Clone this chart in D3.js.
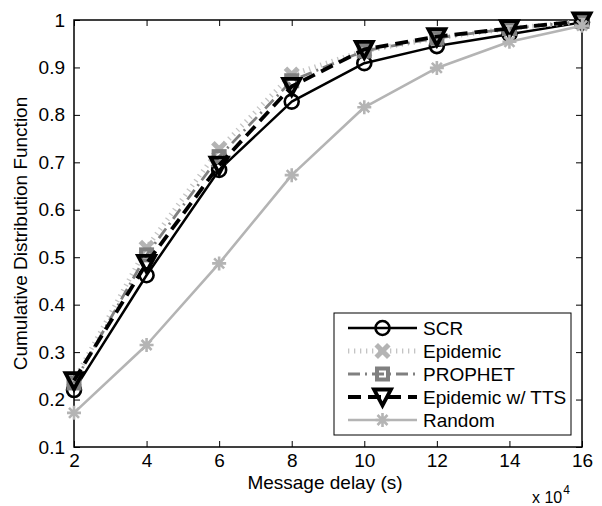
<!DOCTYPE html>
<html>
<head>
<meta charset="utf-8">
<script src="https://cdn.jsdelivr.net/npm/d3@7"></script>
<style>
  html, body { margin: 0; padding: 0; background: #fff; }
  svg { display: block; }
  text { font-family: "Liberation Sans", Arial, Helvetica, sans-serif; fill: #000; }
</style>
</head>
<body>
<svg id="chart" width="602" height="506"></svg>
<script>
// ---------------- data ----------------
const xValues = [2, 4, 6, 8, 10, 12, 14, 16];
const xTicks = [2, 4, 6, 8, 10, 12, 14, 16];
const yTicks = [0.1, 0.2, 0.3, 0.4, 0.5, 0.6, 0.7, 0.8, 0.9, 1];
const seriesNames = ["SCR", "Epidemic", "PROPHET", "Epidemic w/ TTS", "Random"];
const scrValues      = [0.220, 0.462, 0.684, 0.828, 0.909, 0.945, 0.970, 0.995];
const epidemicValues = [0.240, 0.520, 0.728, 0.885, 0.935, 0.962, 0.982, 0.997];
const prophetValues  = [0.235, 0.505, 0.712, 0.872, 0.935, 0.962, 0.982, 0.997];
const ttsValues      = [0.240, 0.487, 0.694, 0.860, 0.938, 0.965, 0.982, 0.998];
const randomValues   = [0.172, 0.315, 0.487, 0.673, 0.816, 0.899, 0.954, 0.988];
const xLabel = "Message delay (s)";
const yLabel = "Cumulative Distribution Function";

// ---------------- layout ----------------
const svg = d3.select("#chart");
const L = 74, R = 582, T = 20, B = 447;
const x = d3.scaleLinear().domain([2, 16]).range([L, R]);
const y = d3.scaleLinear().domain([0.1, 1]).range([B, T]);
const FS = 19;

// styles per series
const styles = [
  { values: scrValues,      color: "#000",    width: 2.5, dash: null,          marker: "circle" },
  { values: epidemicValues, color: "#c4c4c4", width: 5,   dash: "1.3,4.7",     marker: "x",  mcolor: "#b4b4b4" },
  { values: prophetValues,  color: "#808080", width: 2.8, dash: "12,5,2,5",    marker: "square" },
  { values: ttsValues,      color: "#000",    width: 3.8, dash: "13,7",        marker: "tri" },
  { values: randomValues,   color: "#b4b4b4", width: 2.6, dash: null,          marker: "star" }
];

function drawMarker(g, type, cx, cy, s) {
  const mc = s.mcolor || s.color;
  if (type === "circle") {
    g.append("circle").attr("cx", cx).attr("cy", cy).attr("r", 7)
      .attr("fill", "none").attr("stroke", mc).attr("stroke-width", 2.6);
  } else if (type === "x") {
    const p = d3.path(); const a = 4.5;
    p.moveTo(cx - a, cy - a); p.lineTo(cx + a, cy + a);
    p.moveTo(cx - a, cy + a); p.lineTo(cx + a, cy - a);
    g.append("path").attr("d", p.toString()).attr("fill", "none")
      .attr("stroke", mc).attr("stroke-width", 5).attr("stroke-linecap", "square");
  } else if (type === "square") {
    g.append("rect").attr("x", cx - 5.5).attr("y", cy - 5.5).attr("width", 11).attr("height", 11)
      .attr("fill", "none").attr("stroke", mc).attr("stroke-width", 4);
  } else if (type === "tri") {
    const p = d3.path();
    p.moveTo(cx - 8.5, cy - 7.5); p.lineTo(cx + 8.5, cy - 7.5); p.lineTo(cx, cy + 8.5); p.closePath();
    g.append("path").attr("d", p.toString()).attr("fill", "none")
      .attr("stroke", mc).attr("stroke-width", 3.8).attr("stroke-linejoin", "miter");
  } else if (type === "star") {
    const p = d3.path(); const a = 7, b = 5;
    p.moveTo(cx - a, cy); p.lineTo(cx + a, cy);
    p.moveTo(cx, cy - a); p.lineTo(cx, cy + a);
    p.moveTo(cx - b, cy - b); p.lineTo(cx + b, cy + b);
    p.moveTo(cx - b, cy + b); p.lineTo(cx + b, cy - b);
    g.append("path").attr("d", p.toString()).attr("fill", "none")
      .attr("stroke", mc).attr("stroke-width", 2.6);
  }
}

// ---------------- axes ----------------
const tickFmt = d => (d === 1 ? "1" : d3.format(".1f")(d));

const gx = svg.append("g").attr("transform", `translate(0,${B})`)
  .call(d3.axisBottom(x).tickValues(xTicks).tickSizeInner(-6).tickSizeOuter(0).tickPadding(7).tickFormat(d3.format("d")));
const gxt = svg.append("g").attr("transform", `translate(0,${T})`)
  .call(d3.axisTop(x).tickValues(xTicks).tickSizeInner(-6).tickSizeOuter(0).tickFormat(""));
const gy = svg.append("g").attr("transform", `translate(${L},0)`)
  .call(d3.axisLeft(y).tickValues(yTicks).tickSizeInner(-6).tickSizeOuter(0).tickPadding(9).tickFormat(tickFmt));
const gyr = svg.append("g").attr("transform", `translate(${R},0)`)
  .call(d3.axisRight(y).tickValues(yTicks).tickSizeInner(-6).tickSizeOuter(0).tickFormat(""));

[gx, gxt, gy, gyr].forEach(g => {
  g.select(".domain").remove();
  g.selectAll(".tick line").attr("stroke", "#000").attr("stroke-width", 1);
  g.selectAll(".tick text").attr("font-size", FS).attr("font-family", "Liberation Sans, Arial, sans-serif").attr("fill", "#000");
});
gx.selectAll(".tick text").attr("dy", "0.71em");

svg.append("rect").attr("x", L).attr("y", T).attr("width", R - L).attr("height", B - T)
  .attr("fill", "none").attr("stroke", "#000").attr("stroke-width", 1.5);

// ---------------- series ----------------
const lineGen = d3.line().x((d, i) => x(xValues[i])).y(d => y(d));
const plot = svg.append("g");
styles.forEach(s => {
  const g = plot.append("g");
  g.append("path").attr("d", lineGen(s.values)).attr("fill", "none")
    .attr("stroke", s.color).attr("stroke-width", s.width)
    .attr("stroke-dasharray", s.dash).attr("stroke-linejoin", "round");
  s.values.forEach((v, i) => drawMarker(g, s.marker, x(xValues[i]), y(v), s));
});

// ---------------- labels ----------------
svg.append("text").attr("x", 325).attr("y", 489).attr("text-anchor", "middle")
  .attr("font-size", FS).text(xLabel);
svg.append("text").attr("transform", `translate(27,${(T + B) / 2}) rotate(-90)`)
  .attr("text-anchor", "middle").attr("font-size", FS).text(yLabel);
const mult = svg.append("text").attr("x", 532).attr("y", 503).attr("font-size", 16);
mult.append("tspan").text("x 10");
mult.append("tspan").attr("font-size", 12).attr("dy", -9).attr("dx", 1).text("4");

// ---------------- legend ----------------
const lg = svg.append("g");
lg.append("rect").attr("x", 334).attr("y", 313).attr("width", 237).attr("height", 122)
  .attr("fill", "#fff").attr("stroke", "#000").attr("stroke-width", 1);
const rowY = d3.scalePoint().domain(seriesNames).range([328, 420]);
styles.forEach((s, i) => {
  const cy = rowY(seriesNames[i]);
  const g = lg.append("g");
  g.append("line").attr("x1", 348).attr("x2", 417).attr("y1", cy).attr("y2", cy)
    .attr("stroke", s.color).attr("stroke-width", s.width).attr("stroke-dasharray", s.dash);
  drawMarker(g, s.marker, 382.5, cy, s);
  g.append("text").attr("x", 423).attr("y", cy).attr("dy", "0.36em")
    .attr("font-size", FS).text(seriesNames[i]);
});
</script>
</body>
</html>
